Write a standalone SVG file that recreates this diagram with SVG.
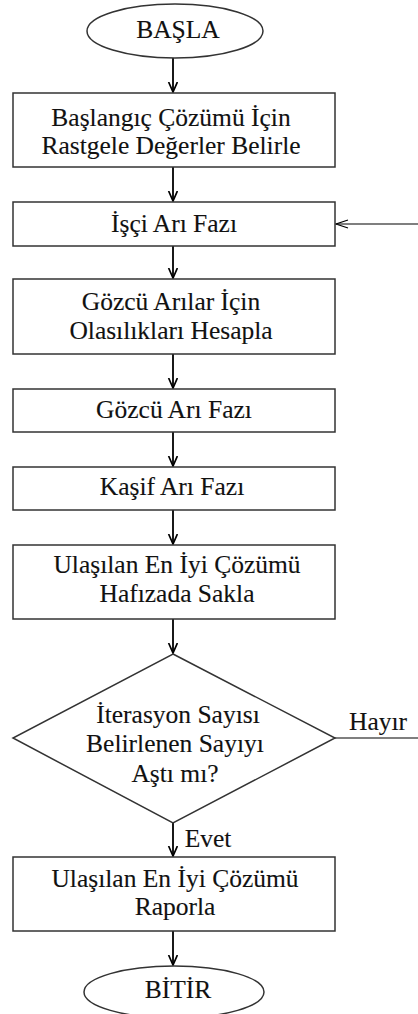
<svg xmlns="http://www.w3.org/2000/svg" width="418" height="1014" viewBox="0 0 418 1014">
<style>
.n{fill:#fff;stroke:#333;stroke-width:1.5}
.t{font-family:'Liberation Serif','DejaVu Serif',serif;font-size:25.5px;fill:#111;stroke:#111;stroke-width:0.12;text-anchor:middle}
.c{stroke:#000;stroke-width:1.8;fill:none}
.c1{stroke:#000;stroke-width:1.2;fill:none}
</style>
<defs>
<marker id="ah" markerUnits="userSpaceOnUse" markerWidth="12" markerHeight="12" refX="10" refY="5" orient="auto">
<path d="M0,0.6 L10,5 L0,9.4" fill="none" stroke="#000" stroke-width="1.7"/>
</marker>
</defs>
<rect width="418" height="1014" fill="#fff"/>
<g id="connectors">
<line class="c" x1="173" y1="58" x2="173" y2="92" marker-end="url(#ah)"/>
<line class="c" x1="173" y1="167" x2="173" y2="201" marker-end="url(#ah)"/>
<line class="c" x1="173" y1="246" x2="173" y2="278" marker-end="url(#ah)"/>
<line class="c" x1="173" y1="354" x2="173" y2="388" marker-end="url(#ah)"/>
<line class="c" x1="173" y1="432" x2="173" y2="466" marker-end="url(#ah)"/>
<line class="c" x1="173" y1="510" x2="173" y2="544" marker-end="url(#ah)"/>
<line class="c" x1="173" y1="619" x2="173" y2="653" marker-end="url(#ah)"/>
<line class="c" x1="173" y1="823" x2="173" y2="856" marker-end="url(#ah)"/>
<line class="c" x1="173" y1="931" x2="173" y2="965" marker-end="url(#ah)"/>
<line class="c1" x1="418" y1="224" x2="336" y2="224"/>
<path class="c1" d="M348,220 L336,224 L348,228"/>
<line class="c1" x1="335" y1="738" x2="418" y2="738"/>
<text class="t" x="378" y="730">Hayır</text>
<text class="t" x="208" y="847">Evet</text>
</g>
<g id="start">
<ellipse class="n" cx="175" cy="31" rx="88" ry="27"/>
<text class="t" x="178" y="38">BAŞLA</text>
</g>
<g id="init">
<rect class="n" x="13" y="93" width="322" height="74"/>
<text class="t" x="171" y="126">Başlangıç Çözümü İçin</text>
<text class="t" x="171" y="154">Rastgele Değerler Belirle</text>
</g>
<g id="employed">
<rect class="n" x="13" y="202" width="322" height="44"/>
<text class="t" x="174" y="232">İşçi Arı Fazı</text>
</g>
<g id="prob">
<rect class="n" x="13" y="279" width="322" height="75"/>
<text class="t" x="171" y="310">Gözcü Arılar İçin</text>
<text class="t" x="171" y="339">Olasılıkları Hesapla</text>
</g>
<g id="onlooker">
<rect class="n" x="13" y="389" width="322" height="43"/>
<text class="t" x="174" y="418">Gözcü Arı Fazı</text>
</g>
<g id="scout">
<rect class="n" x="13" y="467" width="322" height="43"/>
<text class="t" x="172" y="495">Kaşif Arı Fazı</text>
</g>
<g id="memorize">
<rect class="n" x="13" y="545" width="322" height="74"/>
<text class="t" x="177" y="573">Ulaşılan En İyi Çözümü</text>
<text class="t" x="177" y="602">Hafızada Sakla</text>
</g>
<g id="decision">
<polygon class="n" points="173,654 335,738 173,823 13,738"/>
<text class="t" x="178" y="723">İterasyon Sayısı</text>
<text class="t" x="175" y="752">Belirlenen Sayıyı</text>
<text class="t" x="175" y="782">Aştı mı?</text>
</g>
<g id="report">
<rect class="n" x="13" y="857" width="322" height="74"/>
<text class="t" x="175" y="887">Ulaşılan En İyi Çözümü</text>
<text class="t" x="175" y="915">Raporla</text>
</g>
<g id="end">
<ellipse class="n" cx="174" cy="992" rx="90" ry="26"/>
<text class="t" x="178" y="998">BİTİR</text>
</g>
</svg>
